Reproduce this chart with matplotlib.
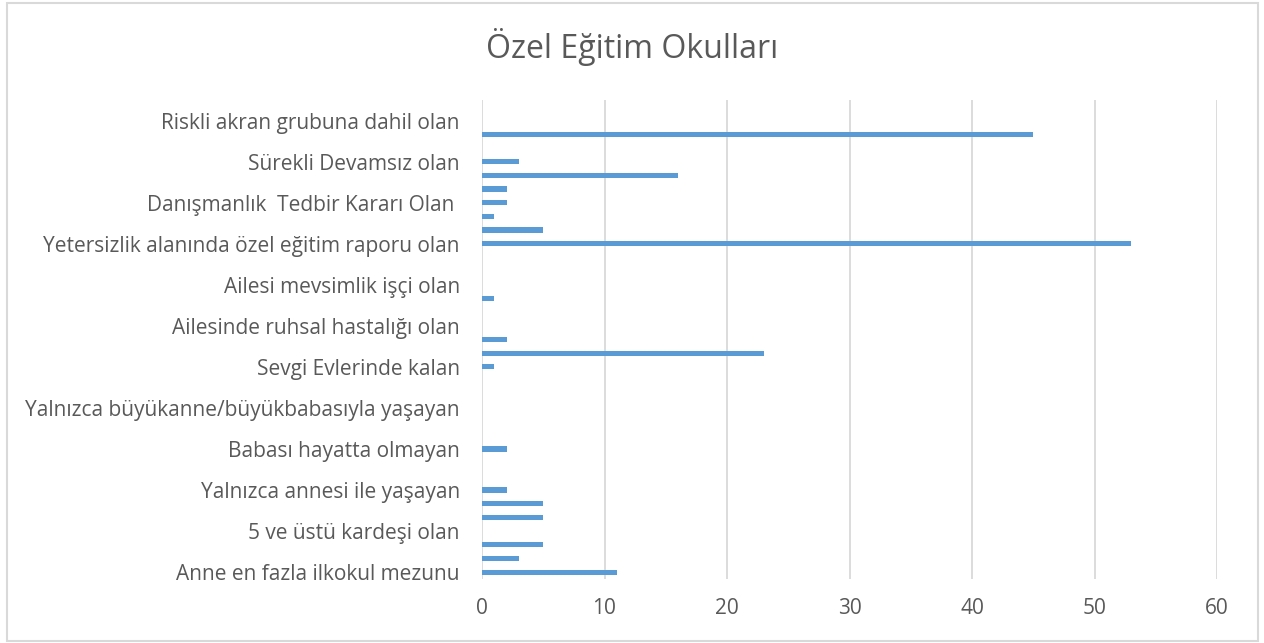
import matplotlib
matplotlib.use("Agg")
import matplotlib.pyplot as plt
from matplotlib.patches import Rectangle

plt.rcParams['font.family'] = ['Open Sans', 'DejaVu Sans']

title = "Özel Eğitim Okulları"

# 35 categories bottom -> top; only every third label is displayed in the reference
categories = [
    "Anne en fazla ilkokul mezunu", "", "",
    "5 ve üstü kardeşi olan", "", "",
    "Yalnızca annesi ile yaşayan", "", "",
    "Babası hayatta olmayan", "", "",
    "Yalnızca büyükanne/büyükbabasıyla yaşayan", "", "",
    "Sevgi Evlerinde kalan", "", "",
    "Ailesinde ruhsal hastalığı olan", "", "",
    "Ailesi mevsimlik işçi olan", "", "",
    "Yetersizlik alanında özel eğitim raporu olan", "", "",
    "Danışmanlık  Tedbir Kararı Olan ", "", "",
    "Sürekli Devamsız olan", "", "",
    "Riskli akran grubuna dahil olan", "",
]

values = [
    11, 3, 5,
    0, 5, 5,
    2, 0, 0,
    2, 0, 0,
    0, 0, 0,
    1, 23, 2,
    0, 0, 1,
    0, 0, 0,
    53, 5, 1,
    2, 2, 16,
    3, 0, 45,
    0, 0,
]

x_ticks = [0, 10, 20, 30, 40, 50, 60]

text_color = "#595959"
bar_color = "#5B9BD5"
grid_color = "#D9D9D9"

fig = plt.figure(figsize=(12.64, 6.43), dpi=100)
fig.patches.append(Rectangle((7/1264, 2/643), 1251/1264, 638/643, transform=fig.transFigure,
                             fill=False, edgecolor="#D9D9D9", linewidth=1.5))

ax = fig.add_axes([482/1264, 1 - 579/643, 735/1264, 479/643])
pos = list(range(len(categories)))
ax.barh(pos, values, height=0.38, color=bar_color, zorder=3)

ax.set_xlim(0, 60)
ax.set_ylim(-0.5, len(categories) - 0.5)
ax.set_xticks(x_ticks)
ax.set_xticklabels([str(t) for t in x_ticks])
tick_pos = [p for p, c in zip(pos, categories) if c != ""]
ax.set_yticks(tick_pos)
ax.set_yticklabels([c for c in categories if c != ""])

ax.grid(axis="x", color=grid_color, linewidth=1.3, zorder=0)
for s in ax.spines.values():
    s.set_visible(False)
ax.tick_params(axis="both", length=0, colors=text_color, labelsize=15)
ax.tick_params(axis="y", pad=16)
ax.tick_params(axis="x", pad=14)

fig.text(632/1264, 1 - 47/643, title, ha="center", va="center", fontsize=23, color=text_color)

fig.savefig("out.png", dpi=100)
